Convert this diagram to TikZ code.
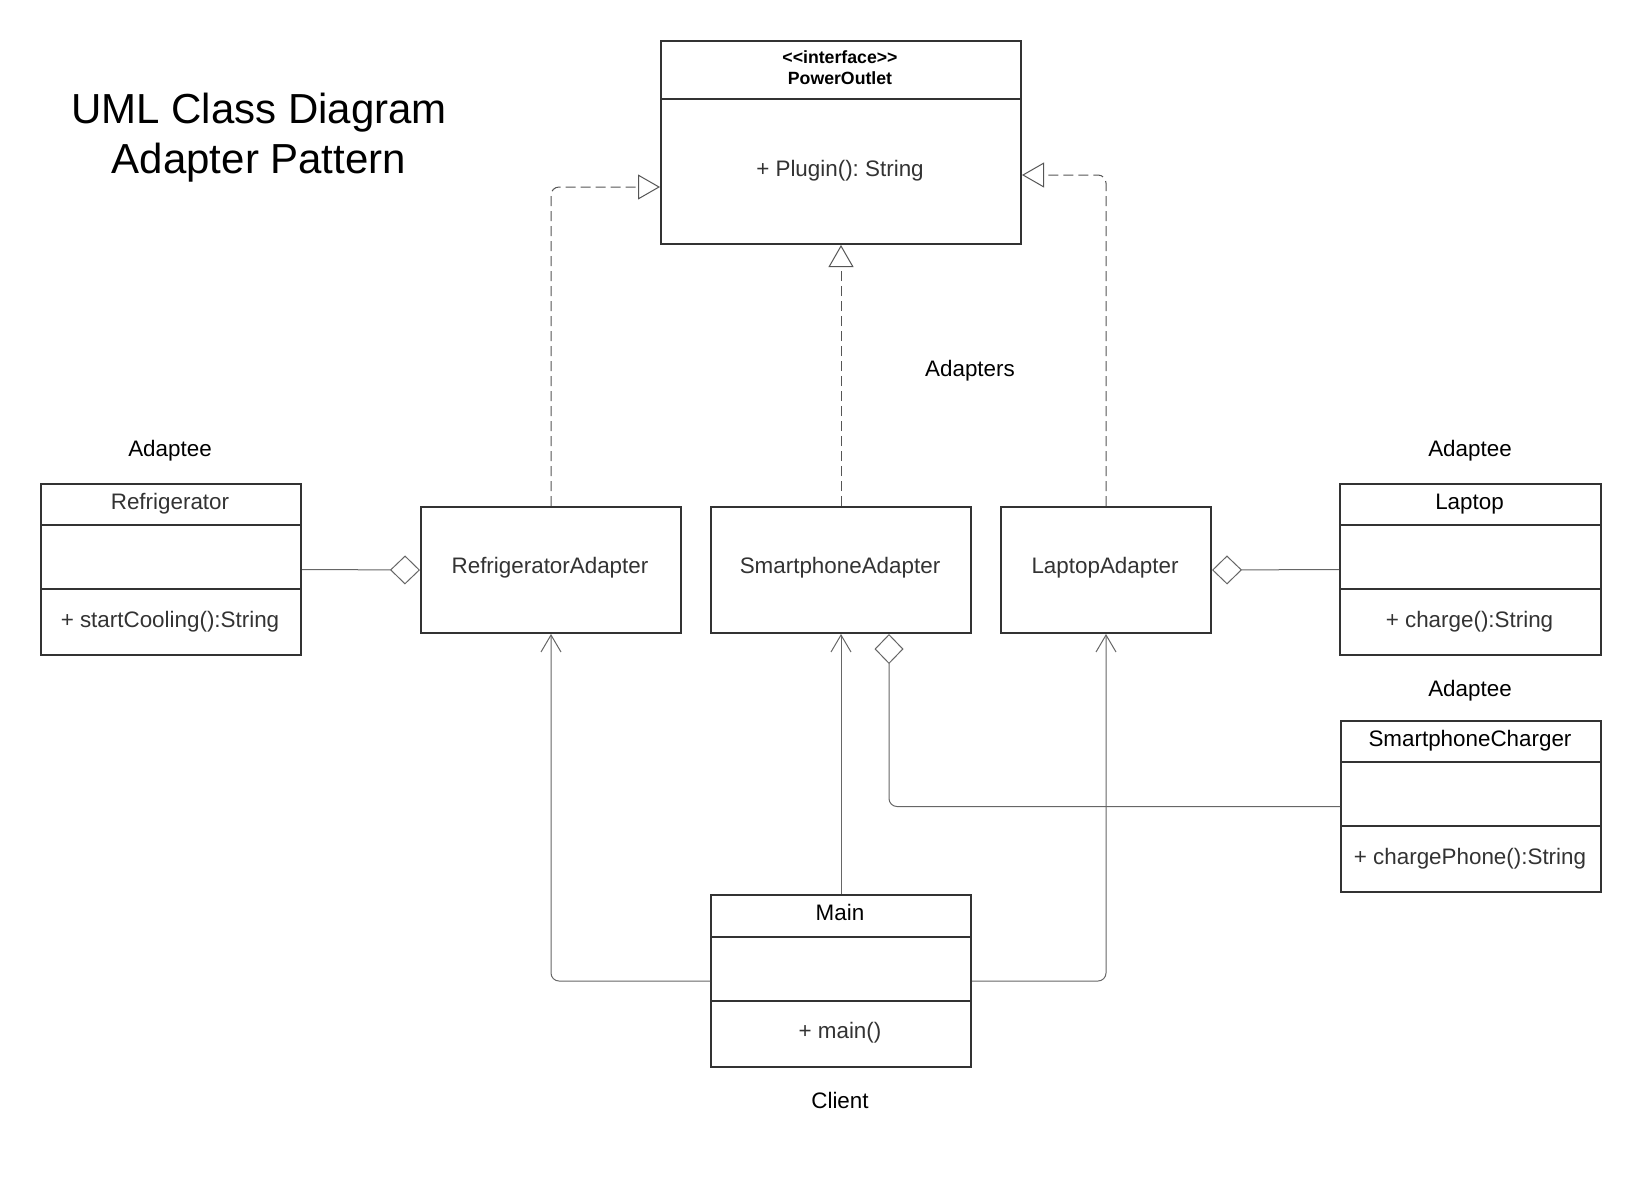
\documentclass[tikz,border=0pt]{standalone}
\usepackage{fontspec}
\setmainfont{Liberation Sans}
\usetikzlibrary{arrows.meta,calc}
\definecolor{boxc}{HTML}{333333}
\definecolor{linec}{HTML}{666666}
\definecolor{dashc}{HTML}{555555}
\definecolor{txtc}{HTML}{333333}
\frenchspacing
\begin{document}
\begin{tikzpicture}[x=0.5pt,y=-0.5pt,
  classbox/.style={draw=boxc, line width=1pt, inner sep=0pt, anchor=north west, fill=white},
  divline/.style={draw=boxc, line width=1pt},
  txt/.style={font=\fontsize{11.2pt}{13.4pt}\selectfont, text=txtc, inner sep=0pt},
  lbl/.style={font=\fontsize{11.2pt}{13.4pt}\selectfont, text=black, inner sep=0pt},
  realize/.style={draw=dashc, line width=0.5pt, dash pattern=on 5pt off 2.5pt, rounded corners=4pt,
    -{Triangle[open, length=11pt, width=12.5pt, fill=white]}},
  aggr/.style={draw=linec, line width=0.5pt, rounded corners=4pt,
    -{Diamond[open, length=15pt, width=14.5pt, fill=white]}},
  assoc/.style={draw=linec, line width=0.5pt, rounded corners=4pt,
    -{Straight Barb[length=8.5pt, width=10pt]}}
]
\useasboundingbox (0,0) rectangle (1640,1180);

% Title
\node[font=\fontsize{21pt}{25pt}\selectfont, text=black, inner sep=0pt] (title1) at (259,113) {UML Class Diagram};
\node[font=\fontsize{21pt}{25pt}\selectfont, text=black, inner sep=0pt] (title2) at (259,163) {Adapter Pattern};

% PowerOutlet interface
\node[classbox, minimum width=180pt, minimum height=101.5pt] (po) at (660,40) {};
\draw[divline] ($(po.north west)+(0,59)$) -- ($(po.north east)+(0,59)$);
\node[font=\bfseries\fontsize{8.85pt}{10.5pt}\selectfont, text=black, align=center, inner sep=0pt] (poname) at (840,67.5) {<{}<interface>{}>\\PowerOutlet};
\node[txt] (pometh) at (840,171) {+ Plugin(): String};

% Adapters
\node[classbox, minimum width=130pt, minimum height=63pt] (refrAd) at (420,506) {};
\node[txt] (refrAdname) at (550,568) {RefrigeratorAdapter};
\node[classbox, minimum width=130pt, minimum height=63pt] (smartAd) at (710,506) {};
\node[txt] (smartAdname) at (840,568) {SmartphoneAdapter};
\node[classbox, minimum width=105pt, minimum height=63pt] (lapAd) at (1000,506) {};
\node[txt] (lapAdname) at (1105,568) {LaptopAdapter};

% Refrigerator
\node[classbox, minimum width=130pt, minimum height=85.5pt] (refr) at (40,483) {};
\draw[divline] ($(refr.north west)+(0,42)$) -- ($(refr.north east)+(0,42)$);
\draw[divline] ($(refr.north west)+(0,106)$) -- ($(refr.north east)+(0,106)$);
\node[txt] (refrname) at (170,504) {Refrigerator};
\node[txt] (refrmeth) at (170,622) {+ startCooling():String};

% Laptop
\node[classbox, minimum width=130.5pt, minimum height=85.5pt] (lap) at (1339,483) {};
\draw[divline] ($(lap.north west)+(0,42)$) -- ($(lap.north east)+(0,42)$);
\draw[divline] ($(lap.north west)+(0,106)$) -- ($(lap.north east)+(0,106)$);
\node[lbl] (lapname) at (1469.5,504) {Laptop};
\node[txt] (lapmeth) at (1469.5,622) {+ charge():String};

% SmartphoneCharger
\node[classbox, minimum width=130pt, minimum height=85.5pt] (chg) at (1340,720) {};
\draw[divline] ($(chg.north west)+(0,42)$) -- ($(chg.north east)+(0,42)$);
\draw[divline] ($(chg.north west)+(0,106)$) -- ($(chg.north east)+(0,106)$);
\node[lbl] (chgname) at (1470,741) {SmartphoneCharger};
\node[txt] (chgmeth) at (1470,859) {+ chargePhone():String};

% Main
\node[classbox, minimum width=130pt, minimum height=86pt] (main) at (710,894) {};
\draw[divline] ($(main.north west)+(0,43)$) -- ($(main.north east)+(0,43)$);
\draw[divline] ($(main.north west)+(0,107)$) -- ($(main.north east)+(0,107)$);
\node[lbl] (mainname) at (840,912) {Main};
\node[txt] (mainmeth) at (840,1033) {+ main()};

% Labels
\node[lbl] (adapteeL) at (170,451) {Adaptee};
\node[lbl] (adapteeR) at (1470,451) {Adaptee};
\node[lbl] (adapteeC) at (1470,691) {Adaptee};
\node[lbl] (adapters) at (970,371) {Adapters};
\node[lbl] (client) at (840,1100) {Client};

% Realizations
\draw[realize] (refrAd.north) |- ($(po.north west)+(0,147)$);
\draw[realize] (smartAd.north) -- (po.south);
\draw[realize] (lapAd.north) |- ($(po.north east)+(0,135)$);

% Aggregations
\draw[aggr] (refr.east) -- (refrAd.west);
\draw[aggr] (lap.west) -- (lapAd.east);
\draw[aggr] (chg.west) -| ($(smartAd.south)+(48,0)$);

% Associations from Main
\draw[assoc] (main.west) -| (refrAd.south);
\draw[assoc] (main.north) -- (smartAd.south);
\draw[assoc] (main.east) -| (lapAd.south);
\end{tikzpicture}
\end{document}
